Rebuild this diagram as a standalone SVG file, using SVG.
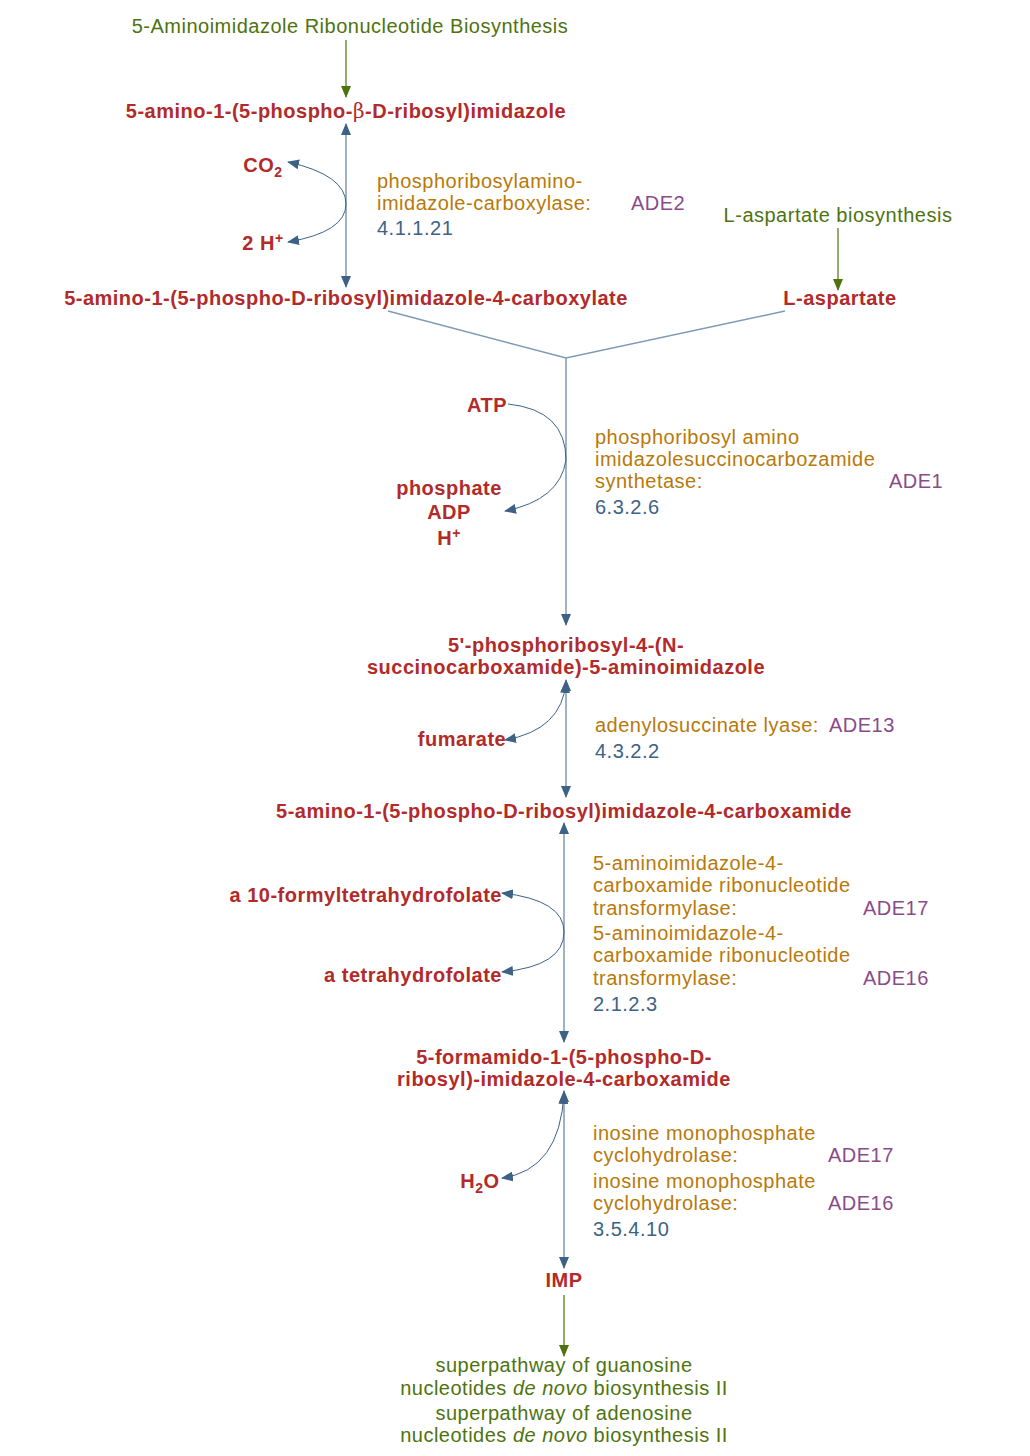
<svg xmlns="http://www.w3.org/2000/svg" width="1030" height="1456" viewBox="0 0 1030 1456">
<style>
text{font-family:"Liberation Sans",Arial,sans-serif;font-size:20px;letter-spacing:0.5px}
.c{fill:#b22a2a;font-weight:bold;text-anchor:middle}
.g{fill:#4e730f;text-anchor:middle}
.e{fill:#b8790a}
.a{fill:#8a4b8a}
.n{fill:#3d6286}
.main{stroke:#7f9ab5;stroke-width:1.5;fill:none}
.side{stroke:#3d6286;stroke-width:1;fill:none}
.gl{stroke:#4e730f;stroke-width:1.2;fill:none}
</style>
<defs>
<marker id="ah" markerWidth="12" markerHeight="10" refX="11" refY="5" orient="auto" markerUnits="userSpaceOnUse"><path d="M0,0L12,5L0,10z" fill="#3d6286"/></marker>
<marker id="as" markerWidth="12" markerHeight="10" refX="1" refY="5" orient="auto" markerUnits="userSpaceOnUse"><path d="M12,0L0,5L12,10z" fill="#3d6286"/></marker>
<marker id="ag" markerWidth="12" markerHeight="10" refX="11" refY="5" orient="auto" markerUnits="userSpaceOnUse"><path d="M0,0L12,5L0,10z" fill="#4e730f"/></marker>
</defs>
<g id="connectors">
<line class="gl" x1="346" y1="40" x2="346" y2="97" marker-end="url(#ag)"/>
<line class="main" x1="346" y1="124" x2="346" y2="287" marker-start="url(#as)" marker-end="url(#ah)"/>
<path class="side" d="M288,162 Q346,175 346,204 Q346,232 288,242" marker-start="url(#as)" marker-end="url(#ah)"/>
<line class="gl" x1="838" y1="228" x2="838" y2="290" marker-end="url(#ag)"/>
<path class="main" d="M388,311 L566,358 L785,311 M566,358 L566,625" marker-end="url(#ah)"/>
<path class="side" d="M508,404 Q566,410 566,460 Q560,500 505,511" marker-end="url(#ah)"/>
<line class="main" x1="566" y1="680" x2="566" y2="797" marker-start="url(#as)" marker-end="url(#ah)"/>
<path class="side" d="M566,682 Q562,730 505,740" marker-start="url(#as)" marker-end="url(#ah)"/>
<line class="main" x1="564" y1="823" x2="564" y2="1042" marker-start="url(#as)" marker-end="url(#ah)"/>
<path class="side" d="M502,893 Q564,900 564,932 Q564,966 502,972" marker-start="url(#as)" marker-end="url(#ah)"/>
<line class="main" x1="564" y1="1091" x2="564" y2="1268" marker-start="url(#as)" marker-end="url(#ah)"/>
<path class="side" d="M564,1093 Q560,1170 502,1178" marker-start="url(#as)" marker-end="url(#ah)"/>
<line class="gl" x1="564" y1="1295" x2="564" y2="1356" marker-end="url(#ag)"/>
</g>
<g id="n-air"><text class="g" x="350" y="33">5-Aminoimidazole Ribonucleotide Biosynthesis</text></g>
<g id="n-air-cpd"><text class="c" x="346" y="118">5-amino-1-(5-phospho-<tspan font-family="'DejaVu Serif',serif" font-weight="normal">β</tspan>-D-ribosyl)imidazole</text></g>
<g id="n-co2"><text class="c" x="263" y="172">CO<tspan font-size="14" dy="5">2</tspan></text></g>
<g id="n-h1"><text class="c" x="263" y="250">2 H<tspan font-size="14" dy="-7">+</tspan></text></g>
<g id="r1"><text class="e" x="377" y="188">phosphoribosylamino-</text><text x="377" y="210"><tspan class="e">imidazole-carboxylase:</tspan><tspan class="a" x="631">ADE2</tspan></text><text class="n" x="377" y="235">4.1.1.21</text></g>
<g id="n-aspb"><text class="g" x="838" y="222">L-aspartate biosynthesis</text></g>
<g id="n-cair"><text class="c" x="346" y="305">5-amino-1-(5-phospho-D-ribosyl)imidazole-4-carboxylate</text></g>
<g id="n-asp"><text class="c" x="840" y="305">L-aspartate</text></g>
<g id="n-atp"><text class="c" x="487" y="412">ATP</text></g>
<g id="n-prod"><text class="c" x="449" y="495">phosphate</text><text class="c" x="449" y="519">ADP</text><text class="c" x="449" y="545">H<tspan font-size="14" dy="-7">+</tspan></text></g>
<g id="r2"><text class="e" x="595" y="444">phosphoribosyl amino</text><text class="e" x="595" y="466">imidazolesuccinocarbozamide</text><text x="595" y="488"><tspan class="e">synthetase:</tspan><tspan class="a" x="889">ADE1</tspan></text><text class="n" x="595" y="514">6.3.2.6</text></g>
<g id="n-saicar"><text class="c" x="566" y="652">5'-phosphoribosyl-4-(N-</text><text class="c" x="566" y="674">succinocarboxamide)-5-aminoimidazole</text></g>
<g id="n-fum"><text class="c" x="462" y="746">fumarate</text></g>
<g id="r3"><text x="595" y="732"><tspan class="e">adenylosuccinate lyase:</tspan><tspan class="a" x="829">ADE13</tspan></text><text class="n" x="595" y="758">4.3.2.2</text></g>
<g id="n-aicar"><text class="c" x="564" y="818">5-amino-1-(5-phospho-D-ribosyl)imidazole-4-carboxamide</text></g>
<g id="n-thf10"><text class="c" x="502" y="902" style="text-anchor:end">a 10-formyltetrahydrofolate</text></g>
<g id="n-thf"><text class="c" x="502" y="982" style="text-anchor:end">a tetrahydrofolate</text></g>
<g id="r4"><text class="e" x="593" y="870">5-aminoimidazole-4-</text><text class="e" x="593" y="892">carboxamide ribonucleotide</text><text x="593" y="915"><tspan class="e">transformylase:</tspan><tspan class="a" x="863">ADE17</tspan></text><text class="e" x="593" y="940">5-aminoimidazole-4-</text><text class="e" x="593" y="962">carboxamide ribonucleotide</text><text x="593" y="985"><tspan class="e">transformylase:</tspan><tspan class="a" x="863">ADE16</tspan></text><text class="n" x="593" y="1011">2.1.2.3</text></g>
<g id="n-faicar"><text class="c" x="564" y="1064">5-formamido-1-(5-phospho-D-</text><text class="c" x="564" y="1086">ribosyl)-imidazole-4-carboxamide</text></g>
<g id="n-h2o"><text class="c" x="480" y="1188">H<tspan font-size="14" dy="5">2</tspan><tspan dy="-5">O</tspan></text></g>
<g id="r5"><text class="e" x="593" y="1140">inosine monophosphate</text><text x="593" y="1162"><tspan class="e">cyclohydrolase:</tspan><tspan class="a" x="828">ADE17</tspan></text><text class="e" x="593" y="1188">inosine monophosphate</text><text x="593" y="1210"><tspan class="e">cyclohydrolase:</tspan><tspan class="a" x="828">ADE16</tspan></text><text class="n" x="593" y="1236">3.5.4.10</text></g>
<g id="n-imp"><text class="c" x="564" y="1287">IMP</text></g>
<g id="n-out"><text class="g" x="564" y="1372">superpathway of guanosine</text><text class="g" x="564" y="1395">nucleotides <tspan font-style="italic">de novo</tspan> biosynthesis II</text><text class="g" x="564" y="1420">superpathway of adenosine</text><text class="g" x="564" y="1442">nucleotides <tspan font-style="italic">de novo</tspan> biosynthesis II</text></g>
</svg>
